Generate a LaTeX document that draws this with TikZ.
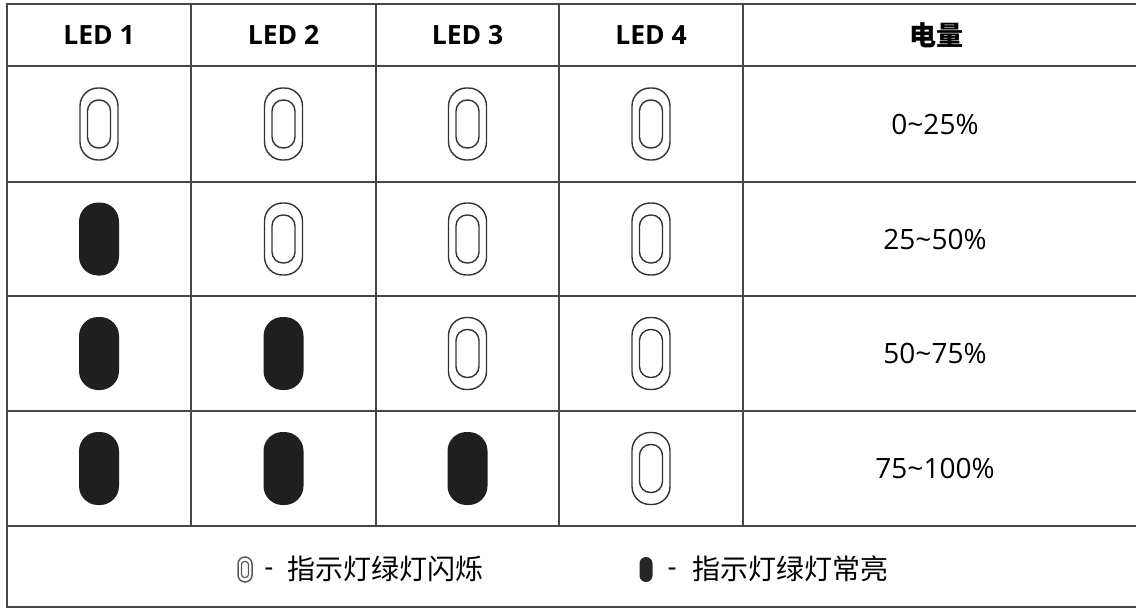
\documentclass[tikz,border=0pt]{standalone}
\usepackage{fontspec}
\setmainfont{Open Sans}
\newfontfamily\cjk{Noto Sans CJK SC}

\begin{document}
\begin{tikzpicture}[x=1pt, y=-1pt,
		grid/.style = {draw=black!72, line width=1.6pt},
		head/.style = {font=\fontsize{26.5}{30}\selectfont\bfseries},
		level/.style = {font=\fontsize{28}{32}\selectfont},
		note/.style = {font=\fontsize{28}{32}\selectfont, inner sep=0pt},
		ledline/.style = {draw=black!80, line width=1.4pt},
		on/.style = {fill=black!88, rounded corners=19pt, inner sep=0pt,
			minimum width=40pt, minimum height=73pt},
		off/.style = {ledline, rounded corners=18pt, inner sep=0pt,
			minimum width=38pt, minimum height=72pt,
			path picture={\draw[ledline, rounded corners=11pt]
				(path picture bounding box.center) +(-11.5,-24) rectangle +(11.5,24);}},
		on small/.style = {fill=black!85, rounded corners=6.5pt, inner sep=0pt,
			minimum width=13pt, minimum height=25pt},
		off small/.style = {draw=black!65, line width=1.5pt, rounded corners=7pt, inner sep=0pt,
			minimum width=14pt, minimum height=25pt,
			path picture={\draw[draw=black!65, line width=1.2pt, rounded corners=3pt]
				(path picture bounding box.center) +(-3.5,-8) rectangle +(3.5,8);}}]
	
	\useasboundingbox (0,0) rectangle (1136,610);
	
	\draw[grid] (1136,4) -- (7,4) -- (7,607) -- (1136,607);
	\foreach \y in {66,182,296,411,526}
		\draw[grid] (7,\y) -- (1136,\y);
	\foreach \x in {191,376,559,743}
		\draw[grid] (\x,4) -- (\x,526);
	
	\foreach \c/\x in {1/99,2/283.5,3/467.5,4/651}
		\node[head] (h-\c) at (\x,35) {LED \c};
	\node[head, font=\fontsize{27}{30}\selectfont\cjk\bfseries] (h-5) at (936,35) {电量};
	
	\foreach \r/\y/\t in {1/124/0\textasciitilde25\%, 2/239/25\textasciitilde50\%,
			3/353.5/50\textasciitilde75\%, 4/468.5/75\textasciitilde100\%}{
		\foreach \c/\x in {1/99,2/283.5,3/467.5,4/651}{
			\ifnum\c<\r
				\node[on] (l-\r-\c) at (\x,\y) {};
			\else
				\node[off] (l-\r-\c) at (\x,\y) {};
			\fi
		}
		\node[level] (v-\r) at (935,\y) {\t};
	}
	
	\node[off small] (blink) at (245,569.5) {};
	\node[note] (blink dash) at (269,572) {-};
	\node[note, anchor=west] (blink text) at (287,569) {\cjk 指示灯绿灯闪烁};
	\node[on small] (steady) at (646,569.5) {};
	\node[note] (steady dash) at (672,572) {-};
	\node[note, anchor=west] (steady text) at (692,569) {\cjk 指示灯绿灯常亮};
\end{tikzpicture}
\end{document}
